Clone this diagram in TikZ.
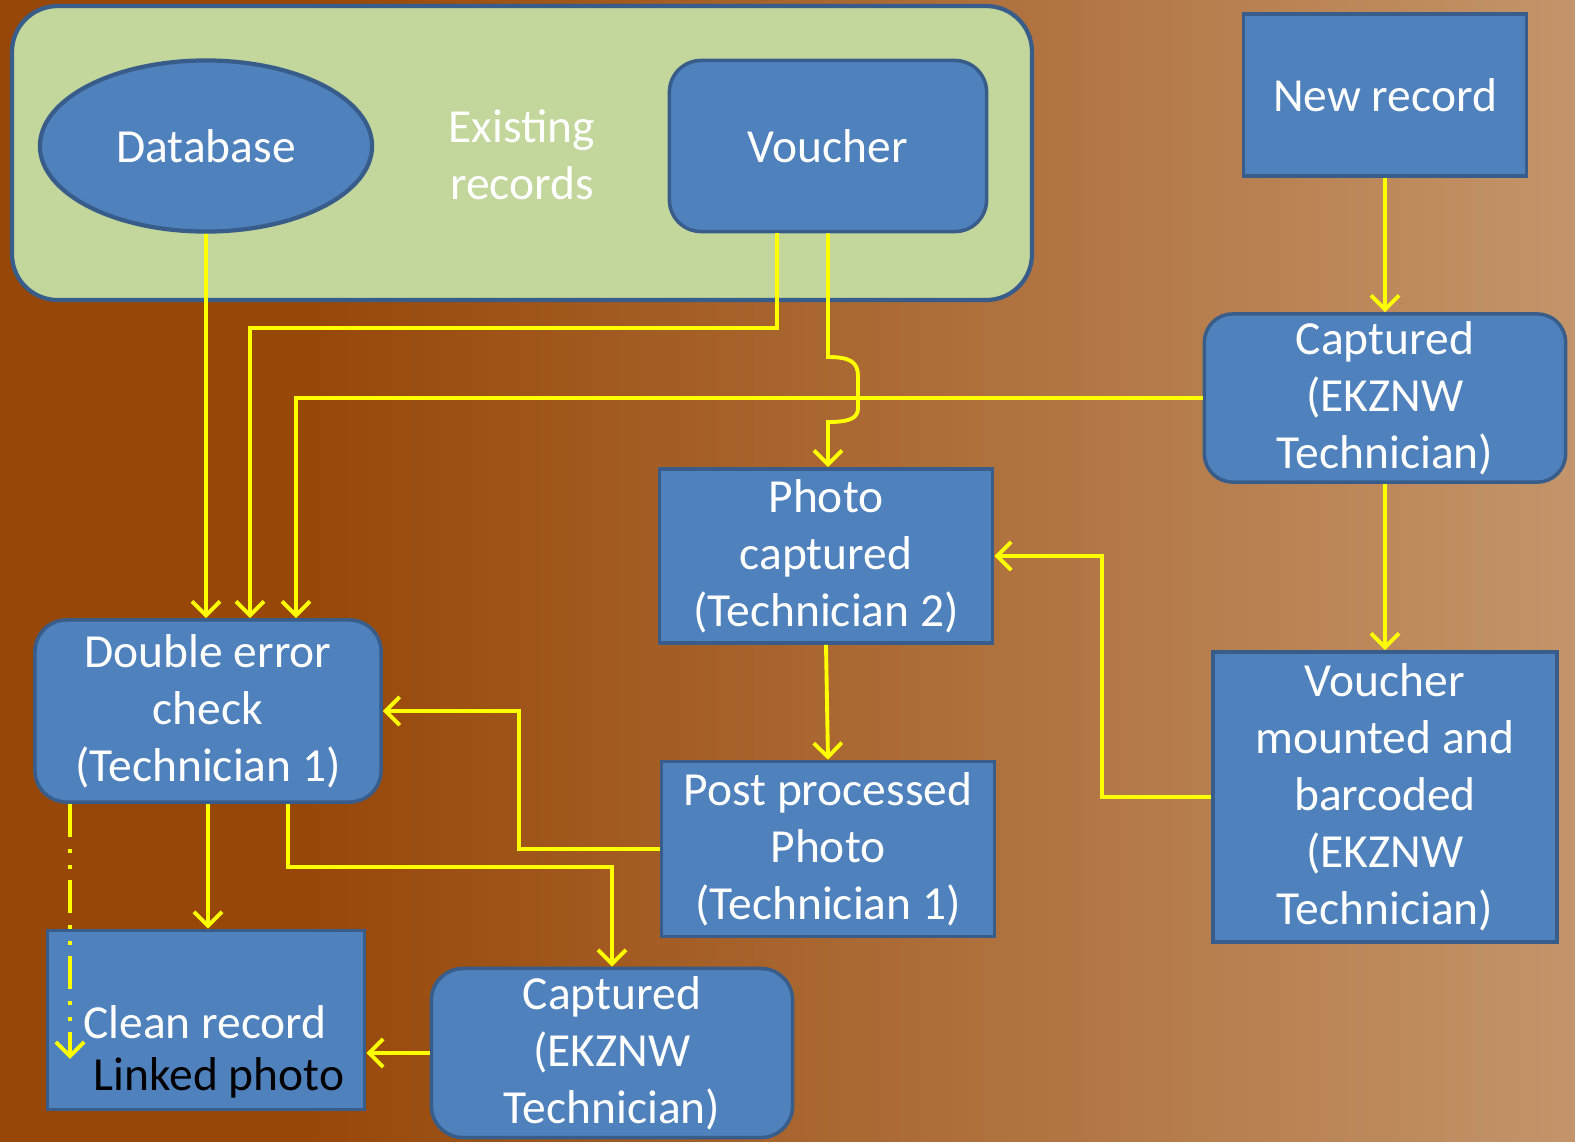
\documentclass[tikz,border=0pt]{standalone}
\usepackage{fontspec}
\setmainfont{Carlito}
\usepackage{xcolor}
\usepackage{tikz}
\usetikzlibrary{shapes.geometric,arrows.meta,positioning,calc}

\definecolor{bgleft}{HTML}{974708}
\definecolor{bgright}{HTML}{C4956B}
\definecolor{panelgreen}{HTML}{C3D69B}
\definecolor{boxfill}{HTML}{4F81BD}
\definecolor{boxline}{HTML}{385D8A}
\definecolor{flowyellow}{HTML}{FFFF00}

\tikzset{
    box/.style={draw=boxline, fill=boxfill, line width=1pt, text=white, align=center,
        inner sep=0pt, font=\fontsize{13.5}{16.2}\selectfont},
    rbox/.style={box, rounded corners=9pt},
    flow/.style={draw=flowyellow, line width=1.1pt, -{Straight Barb[length=4pt,width=8pt]}},
}

\begin{document}
\begin{tikzpicture}[x=0.01cm, y=-0.01cm]
    \useasboundingbox (0,0) rectangle (1575,1141);
    \fill[bgleft] (-10,-10) rectangle (301,1151);
    \shade[left color=bgleft, right color=bgright] (300,-10) rectangle (1585,1151);
    \draw[boxline, fill=panelgreen, line width=1.2pt, rounded corners=13pt] (12,6) rectangle (1032,300);

    \node[box, ellipse, line width=1.2pt, minimum width=3.32cm, minimum height=1.71cm] (dbase) at (206,146) {Database};
    \node[text=white, align=center, font=\fontsize{13.5}{16.2}\selectfont] (existing) at (522,155) {Existing\\records};
    \node[rbox, minimum width=3.17cm, minimum height=1.71cm] (voucher) at (828,146) {Voucher};
    \node[box, minimum width=2.83cm, minimum height=1.62cm] (newrec) at (1385,95) {New record};
    \node[rbox, rounded corners=8pt, minimum width=3.61cm, minimum height=1.68cm] (capA) at (1385,398) {Captured\\(EKZNW\\Technician)};
    \node[box, minimum width=3.33cm, minimum height=1.74cm] (photo) at (826,556) {Photo\\captured\\(Technician 2)};
    \node[box, minimum width=3.44cm, minimum height=2.90cm] (mounted) at (1385,797) {Voucher\\mounted and\\barcoded\\(EKZNW\\Technician)};
    \node[rbox, minimum width=3.46cm, minimum height=1.82cm] (check) at (208,711) {Double error\\check\\(Technician 1)};
    \node[box, minimum width=3.33cm, minimum height=1.75cm] (post) at (828,849) {Post processed\\Photo\\(Technician 1)};
    \node[box, minimum width=3.17cm, minimum height=1.79cm] (clean) at (206,1020) {};
    \node[text=white, font=\fontsize{13.5}{16.2}\selectfont] (cleantxt) at (205,1022) {Clean record};
    \node[text=black, font=\fontsize{13.5}{16.2}\selectfont] (linktxt) at (219,1078) {Linked photo};
    \node[rbox, minimum width=3.61cm, minimum height=1.69cm] (capB) at (612,1053) {Captured\\(EKZNW\\Technician)};

    \draw[flow] (dbase.south) -- (dbase.south |- check.north);
    \draw[flow] ($(voucher.south)+(-51,0)$) -- ++(0,95) -| ($(check.north)+(42,0)$);
    \draw[flow] (capA.west) -| ($(check.north)+(88,0)$);
    \draw[flow] (voucher.south) -- (828,357) .. controls (850,357) and (858,362) .. (858,376)
        -- (858,408) .. controls (858,418) and (850,422) .. (828,422) -- (voucher.south |- photo.north);
    \draw[flow] (newrec.south) -- (capA.north);
    \draw[flow] (capA.south) -- (mounted.north);
    \draw[flow] (mounted.west) -- ++(-109,0) |- (photo.east);
    \draw[flow] (photo.south) -- (post.north);
    \draw[flow] (post.west) -- ++(-141,0) |- (check.east);
    \draw[flow] ($(check.south)+(80,0)$) -- ++(0,63) -| (capB.north);
    \draw[flow] (check.south) -- (check.south |- clean.north);
    \draw[flow, dash pattern=on 0.33cm off 0.12cm on 0.04cm off 0.12cm on 0.04cm off 0.11cm]
        ($(check.south)+(-138,0)$) -- ++(0,255);
    \draw[flow] (capB.west) -- (capB.west -| clean.east);
\end{tikzpicture}
\end{document}
